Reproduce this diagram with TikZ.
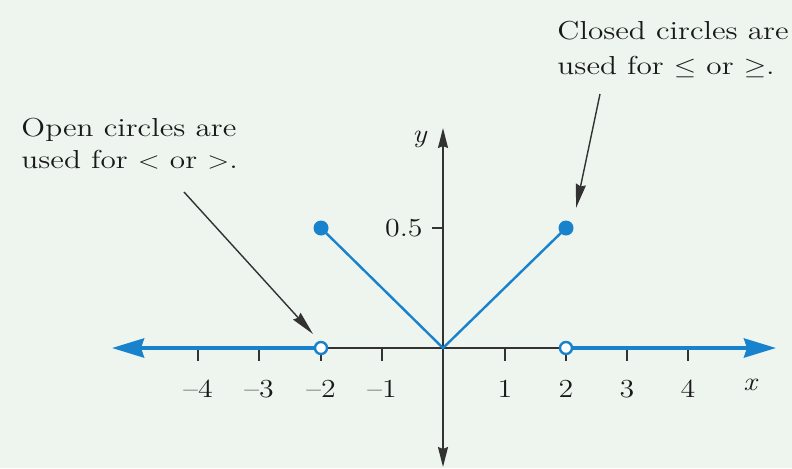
\documentclass[tikz,border=0pt]{standalone}
\usetikzlibrary{arrows.meta}
\definecolor{bg}{RGB}{237,245,238}
\definecolor{plotblue}{RGB}{24,130,204}
\definecolor{axisgray}{RGB}{50,50,50}
\definecolor{txt}{RGB}{25,25,25}
\begin{document}
\begin{tikzpicture}[x=0.5pt,y=-0.5pt,
  axisline/.style={draw=axisgray,line width=0.8pt},
  tickline/.style={draw=axisgray,line width=0.9pt},
  bluetip/.tip={Stealth[length=16pt,width=9.5pt,inset=1.5pt]},
  axistip/.tip={Stealth[length=10pt,width=5pt,inset=1pt]},
  noteline/.style={draw=axisgray,line width=0.7pt,-{Stealth[length=12pt,width=5pt,inset=1pt]}},
  blueray/.style={draw=plotblue,line width=2pt,-bluetip},
  bluegraph/.style={draw=plotblue,line width=1.2pt},
  closeddot/.style={circle,fill=plotblue,inner sep=0pt,minimum size=7.5pt},
  opendot/.style={circle,draw=plotblue,fill=white,line width=1.2pt,inner sep=0pt,minimum size=6pt},
  ticklabel/.style={inner sep=0pt,text=txt,font=\fontsize{13}{15}\selectfont,xscale=1.15},
  notetext/.style={inner sep=0pt,text=txt,align=left,xscale=1.2,anchor=north west}
]
\useasboundingbox (0,0) rectangle (792,468);
\fill[bg] (0,0) rectangle (792,468);

% key points
\coordinate (O) at (443,348);
\coordinate (A) at (321,348);
\coordinate (B) at (566,348);
\coordinate (P) at (321,228);
\coordinate (Q) at (566,228);
\coordinate (xl) at (112,348);
\coordinate (xr) at (776,348);
\coordinate (yt) at (443,128);
\coordinate (yb) at (443,467);

% y-axis
\draw[axisline,axistip-axistip] (yb) -- (yt);
% black part of x-axis
\draw[axisline] (A) -- (B);

% ticks
\foreach \px in {198,259,321,382,505,566,627,688}
  \draw[tickline] (\px,348) -- (\px,361);
\coordinate (yh) at (443,228);
\draw[tickline] (432,228) -- (yh);

% blue rays
\draw[blueray] (A) -- (xl);
\draw[blueray] (B) -- (xr);

% graph lines
\draw[bluegraph] (P) -- (O) -- (Q);

% dots
\node[closeddot] (cP) at (P) {};
\node[closeddot] (cQ) at (Q) {};
\node[opendot] (oA) at (A) {};
\node[opendot] (oB) at (B) {};

% tick labels
\node[ticklabel] (l-4) at (198,389) {\textendash4};
\node[ticklabel] (l-3) at (259,389) {\textendash3};
\node[ticklabel] (l-2) at (321,389) {\textendash2};
\node[ticklabel] (l-1) at (382,389) {\textendash1};
\node[ticklabel] (l1) at (505,389) {1};
\node[ticklabel] (l2) at (566,389) {2};
\node[ticklabel] (l3) at (627,389) {3};
\node[ticklabel] (l4) at (688,389) {4};
\node[ticklabel,anchor=east] (l05) at (423,228) {0.5};
\node[ticklabel] (xlab) at (751,385) {\textit{x}};
\node[ticklabel] (ylab) at (420,139) {\textit{y}};

% annotations
\node[notetext,font=\fontsize{13}{16}\selectfont] (openNote) at (21,118)
  {Open circles are\\used for ${<}$ or ${>}$.};
\node[notetext,font=\fontsize{13}{17.5}\selectfont] (closedNote) at (557,21)
  {Closed circles are\\used for ${\leq}$ or ${\geq}$.};
\coordinate (n1s) at (184,192);
\coordinate (n1e) at (313,334);
\coordinate (n2s) at (600,94);
\coordinate (n2e) at (576,208);
\draw[noteline] (n1s) -- (n1e);
\draw[noteline] (n2s) -- (n2e);
\end{tikzpicture}
\end{document}
